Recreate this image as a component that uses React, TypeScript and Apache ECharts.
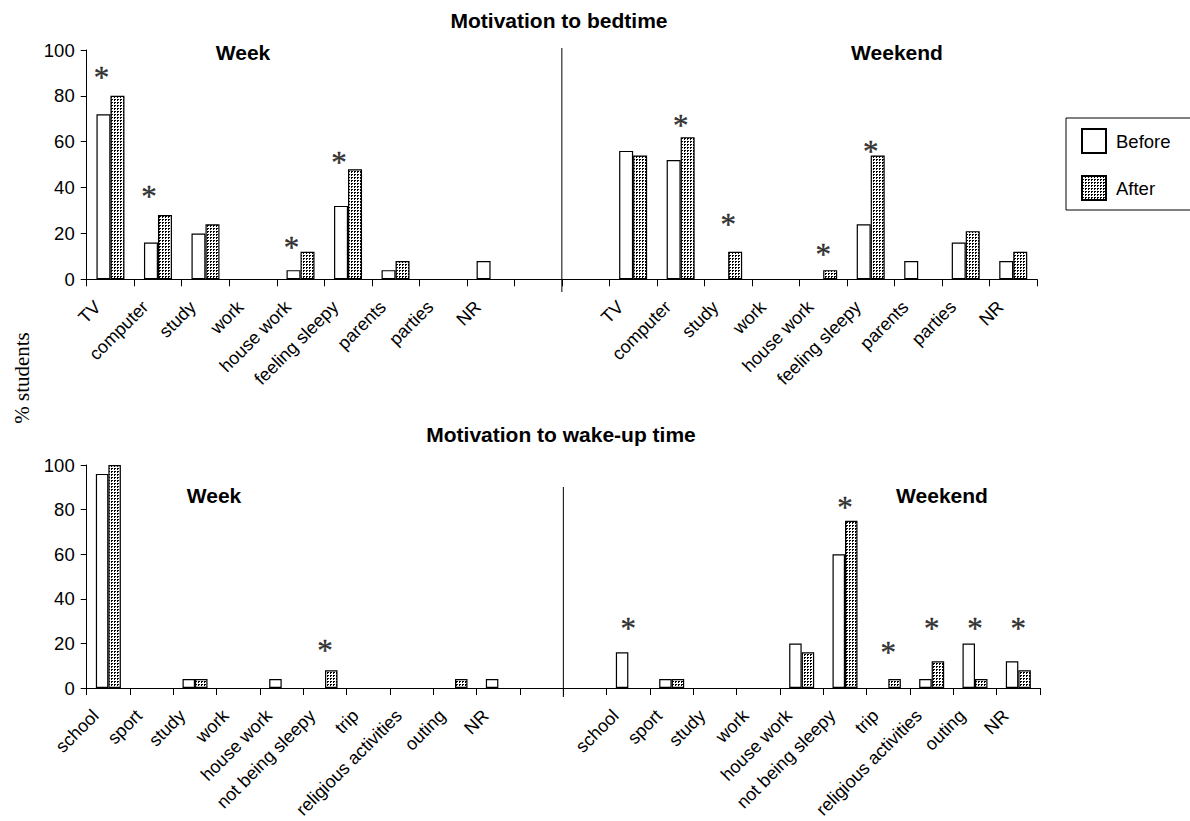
import React, { useEffect, useRef } from "react";
import * as echarts from "echarts";

// ---- Data ----
const bedCats = ["TV", "computer", "study", "work", "house work", "feeling sleepy", "parents", "parties", "NR"];
const bedWeekBefore = [72, 16, 20, 0, 4, 32, 4, 0, 8];
const bedWeekAfter = [80, 28, 24, 0, 12, 48, 8, 0, 0];
const bedWeekendBefore = [56, 52, 0, 0, 0, 24, 8, 16, 8];
const bedWeekendAfter = [54, 62, 12, 0, 4, 54, 0, 21, 12];
// height (in %) at which the significance asterisk sits; null = no asterisk
const bedWeekStar = [91, 39, null, null, 17, 54, null, null, null];
const bedWeekendStar = [null, 70, 27, null, 14, 59, null, null, null];

const wakeCats = ["school", "sport", "study", "work", "house work", "not being sleepy", "trip", "religious activities", "outing", "NR"];
const wakeWeekBefore = [96, 0, 4, 0, 4, 0, 0, 0, 0, 4];
const wakeWeekAfter = [100, 0, 4, 0, 0, 8, 0, 0, 4, 0];
const wakeWeekendBefore = [16, 4, 0, 0, 20, 60, 0, 4, 20, 12];
const wakeWeekendAfter = [0, 4, 0, 0, 16, 75, 4, 12, 4, 8];
const wakeWeekStar = [null, null, null, null, null, 20, null, null, null, null];
const wakeWeekendStar = [30, null, null, null, null, 84, 19, 30, 30, 30];

const yTicks = { min: 0, max: 100, interval: 20 };

const FONT = "'Liberation Sans', Arial, Helvetica, sans-serif";
const SERIF = "'Liberation Serif', 'Times New Roman', serif";

// week block + one empty slot | one empty slot + weekend block
function joinBlocks<T>(a: T[], b: T[], blank: T): T[] {
  return [...a, blank, blank, ...b];
}

export default function App() {
  const ref = useRef<HTMLDivElement>(null);
  useEffect(() => {
    if (!ref.current) return;
    const chart = echarts.init(ref.current, null, { renderer: "svg" });

    const cv = document.createElement("canvas");
    cv.width = 3;
    cv.height = 3;
    const ctx = cv.getContext("2d")!;
    ctx.fillStyle = "#fff";
    ctx.fillRect(0, 0, 3, 3);
    ctx.fillStyle = "#000";
    ctx.fillRect(0, 0, 2, 1);
    ctx.fillRect(0, 1, 1, 1);
    const dotted: any = { image: cv, repeat: "repeat" };

    const g1 = { left: 86.7, top: 50, width: 950.3, height: 229.3 };
    const g2 = { left: 86.7, top: 465, width: 953.3, height: 224.5 };

    const topLabels = joinBlocks(bedCats, bedCats, "");
    const botLabels = joinBlocks(wakeCats, wakeCats, "");
    const nTop = topLabels.length;
    const nBot = botLabels.length;
    const divTop = g1.left + (g1.width * (bedCats.length + 1)) / nTop;
    const divBot = g2.left + (g2.width * (wakeCats.length + 1)) / nBot;

    const xAxisBase = (gridIndex: number, data: string[]) => ({
      type: "category",
      gridIndex,
      data,
      boundaryGap: true,
      axisLine: { show: true, lineStyle: { color: "#000", width: 1 } },
      axisTick: { show: true, interval: 0, length: 7, lineStyle: { color: "#000", width: 1 } },
      axisLabel: {
        interval: 0,
        rotate: 45,
        fontSize: 18,
        color: "#000",
        fontFamily: FONT,
        margin: 12,
        padding: [0, 18, 11, 0],
      },
      splitLine: { show: false },
    });
    const yAxisBase = (gridIndex: number) => ({
      type: "value",
      gridIndex,
      min: yTicks.min,
      max: yTicks.max,
      interval: yTicks.interval,
      axisLine: { show: true, lineStyle: { color: "#000", width: 1 } },
      axisTick: { show: true, length: 6, lineStyle: { color: "#000", width: 1 } },
      axisLabel: { fontSize: 18.5, color: "#000", fontFamily: FONT, margin: 12 },
      splitLine: { show: false },
    });

    const beforeStyle = { color: "#fff", borderColor: "#000", borderWidth: 1.2 };
    const afterStyle = { color: dotted, borderColor: "#000", borderWidth: 1.2 };

    // zero-height bars get no outline (nothing is drawn for them in the reference)
    const toItems = (vals: (number | null)[]) =>
      vals.map((v) => (v === 0 ? { value: 0, itemStyle: { borderWidth: 0 } } : v));

    const bar = (name: string, axis: number, data: (number | null)[], style: any, w: number) => ({
      type: "bar",
      name,
      xAxisIndex: axis,
      yAxisIndex: axis,
      data: toItems(data),
      barWidth: w,
      barGap: "0%",
      itemStyle: style,
      emphasis: { disabled: true },
    });
    const stars = (axis: number, data: (number | null)[], dx: number) => ({
      type: "scatter",
      name: "sig",
      xAxisIndex: axis,
      yAxisIndex: axis,
      data,
      symbolSize: 0,
      silent: true,
      label: {
        show: true,
        formatter: "*",
        position: "inside",
        fontSize: 31,
        fontFamily: SERIF,
        color: "#000",
        textBorderColor: "#000",
        textBorderWidth: 0.4,
        offset: [dx, 7],
      },
    });

    const txt = (text: string, x: number, y: number, size: number, bold = true, family = FONT, rotation = 0) => ({
      type: "text",
      x,
      y,
      rotation,
      silent: true,
      style: {
        text,
        fontSize: size,
        fontWeight: bold ? "bold" : "normal",
        fontFamily: family,
        fill: "#000",
        align: "center",
        textAlign: "center",
        verticalAlign: "middle",
        textVerticalAlign: "middle",
      },
    });

    chart.setOption({
      animation: false,
      backgroundColor: "#fff",
      grid: [g1, g2],
      xAxis: [xAxisBase(0, topLabels), xAxisBase(1, botLabels)],
      yAxis: [yAxisBase(0), yAxisBase(1)],
      legend: {
        data: ["Before", "After"],
        orient: "vertical",
        left: 1066,
        top: 118,
        itemWidth: 24,
        itemHeight: 24,
        itemGap: 21,
        icon: "rect",
        selectedMode: false,
        padding: [10, 20, 9, 15],
        borderColor: "#000",
        borderWidth: 1,
        textStyle: { fontSize: 18.5, color: "#000", fontFamily: FONT, padding: [0, 0, 0, 5] },
      },
      series: [
        bar("Before", 0, joinBlocks<number | null>(bedWeekBefore, bedWeekendBefore, null), beforeStyle, 14),
        bar("After", 0, joinBlocks<number | null>(bedWeekAfter, bedWeekendAfter, null), afterStyle, 14),
        bar("Before", 1, joinBlocks<number | null>(wakeWeekBefore, wakeWeekendBefore, null), beforeStyle, 12.5),
        bar("After", 1, joinBlocks<number | null>(wakeWeekAfter, wakeWeekendAfter, null), afterStyle, 12.5),
        stars(0, joinBlocks<number | null>(bedWeekStar, new Array(bedCats.length).fill(null), null), -9),
        stars(0, joinBlocks<number | null>(new Array(bedCats.length).fill(null), bedWeekendStar, null), 0),
        stars(1, joinBlocks<number | null>(wakeWeekStar, wakeWeekendStar, null), 0),
      ],
      graphic: [
        txt("Motivation to bedtime", 559, 20, 21),
        txt("Week", 243, 52, 21),
        txt("Weekend", 897, 52, 21),
        txt("Motivation to wake-up time", 561, 434, 21),
        txt("Week", 214, 495, 21),
        txt("Weekend", 942, 495, 21),
        txt("% students", 22, 378, 21, false, SERIF, Math.PI / 2),
        {
          type: "line",
          silent: true,
          shape: { x1: divTop, y1: 48, x2: divTop, y2: 292 },
          style: { stroke: "#000", lineWidth: 1 },
        },
        {
          type: "line",
          silent: true,
          shape: { x1: divBot, y1: 487, x2: divBot, y2: 697 },
          style: { stroke: "#000", lineWidth: 1 },
        },
      ],
    });
    return () => chart.dispose();
  }, []);
  return (
    <div
      ref={ref}
      style={{ position: "absolute", left: 0, top: 0, width: 1190, height: 821, background: "#fff" }}
    />
  );
}
